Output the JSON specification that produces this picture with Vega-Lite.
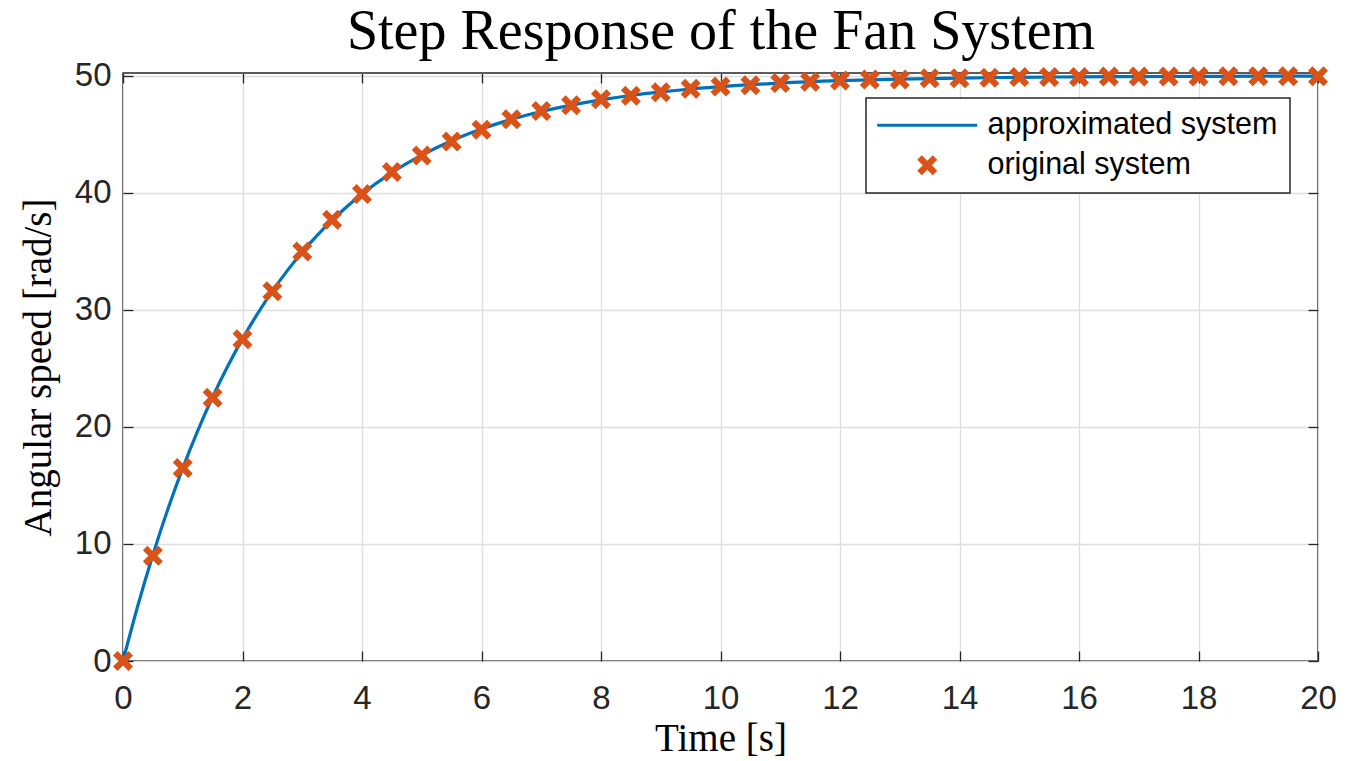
{
  "$schema": "https://vega.github.io/schema/vega-lite/v6.json",
  "width": 1195,
  "height": 588,
  "autosize": {"type": "none"},
  "padding": {"left": 123, "top": 73, "right": 42, "bottom": 100},
  "background": "white",
  "datasets": {
    "approx": [
      {"t": 0, "v": 0}, {"t": 0.25, "v": 4.76}, {"t": 0.5, "v": 9.06}, {"t": 0.75, "v": 12.96},
      {"t": 1, "v": 16.48}, {"t": 1.25, "v": 19.67}, {"t": 1.5, "v": 22.56}, {"t": 1.75, "v": 25.17},
      {"t": 2, "v": 27.53}, {"t": 2.25, "v": 29.67}, {"t": 2.5, "v": 31.61}, {"t": 2.75, "v": 33.36},
      {"t": 3, "v": 34.94}, {"t": 3.25, "v": 36.37}, {"t": 3.5, "v": 37.67}, {"t": 3.75, "v": 38.84},
      {"t": 4, "v": 39.91}, {"t": 4.5, "v": 41.74}, {"t": 5, "v": 43.23}, {"t": 5.5, "v": 44.46},
      {"t": 6, "v": 45.46}, {"t": 6.5, "v": 46.29}, {"t": 7, "v": 46.96}, {"t": 7.5, "v": 47.51},
      {"t": 8, "v": 47.96}, {"t": 8.5, "v": 48.33}, {"t": 9, "v": 48.63}, {"t": 9.5, "v": 48.88},
      {"t": 10, "v": 49.08}, {"t": 11, "v": 49.39}, {"t": 12, "v": 49.59}, {"t": 13, "v": 49.72},
      {"t": 14, "v": 49.82}, {"t": 15, "v": 49.88}, {"t": 16, "v": 49.92}, {"t": 17, "v": 49.94},
      {"t": 18, "v": 49.96}, {"t": 19, "v": 49.975}, {"t": 20, "v": 49.98}
    ],
    "orig": [
      {"t": 0, "v": 0, "series": "original system"},
      {"t": 0.5, "v": 9.0, "series": "original system"},
      {"t": 1, "v": 16.5, "series": "original system"},
      {"t": 1.5, "v": 22.5, "series": "original system"},
      {"t": 2, "v": 27.5, "series": "original system"},
      {"t": 2.5, "v": 31.6, "series": "original system"},
      {"t": 3, "v": 35.0, "series": "original system"},
      {"t": 3.5, "v": 37.7, "series": "original system"},
      {"t": 4, "v": 39.9, "series": "original system"},
      {"t": 4.5, "v": 41.8, "series": "original system"},
      {"t": 5, "v": 43.2, "series": "original system"},
      {"t": 5.5, "v": 44.4, "series": "original system"},
      {"t": 6, "v": 45.4, "series": "original system"},
      {"t": 6.5, "v": 46.3, "series": "original system"},
      {"t": 7, "v": 47.0, "series": "original system"},
      {"t": 7.5, "v": 47.5, "series": "original system"},
      {"t": 8, "v": 48.0, "series": "original system"},
      {"t": 8.5, "v": 48.3, "series": "original system"},
      {"t": 9, "v": 48.6, "series": "original system"},
      {"t": 9.5, "v": 48.9, "series": "original system"},
      {"t": 10, "v": 49.1, "series": "original system"},
      {"t": 10.5, "v": 49.2, "series": "original system"},
      {"t": 11, "v": 49.4, "series": "original system"},
      {"t": 11.5, "v": 49.5, "series": "original system"},
      {"t": 12, "v": 49.6, "series": "original system"},
      {"t": 12.5, "v": 49.7, "series": "original system"},
      {"t": 13, "v": 49.7, "series": "original system"},
      {"t": 13.5, "v": 49.8, "series": "original system"},
      {"t": 14, "v": 49.8, "series": "original system"},
      {"t": 14.5, "v": 49.85, "series": "original system"},
      {"t": 15, "v": 49.9, "series": "original system"},
      {"t": 15.5, "v": 49.9, "series": "original system"},
      {"t": 16, "v": 49.9, "series": "original system"},
      {"t": 16.5, "v": 49.95, "series": "original system"},
      {"t": 17, "v": 49.95, "series": "original system"},
      {"t": 17.5, "v": 49.95, "series": "original system"},
      {"t": 18, "v": 49.96, "series": "original system"},
      {"t": 18.5, "v": 49.97, "series": "original system"},
      {"t": 19, "v": 49.97, "series": "original system"},
      {"t": 19.5, "v": 49.98, "series": "original system"},
      {"t": 20, "v": 49.98, "series": "original system"}
    ]
  },
  "layer": [
    {
      "data": {"name": "approx"},
      "mark": {"type": "line", "color": "#0072BD", "strokeWidth": 3.2, "interpolate": "monotone", "clip": true},
      "encoding": {
        "x": {
          "field": "t", "type": "quantitative",
          "scale": {"domain": [0, 20], "nice": false, "zero": false},
          "axis": {
            "orient": "bottom", "title": "Time [s]", "values": [0, 2, 4, 6, 8, 10, 12, 14, 16, 18, 20],
            "grid": true, "labelPadding": 31,
            "titleX": 597.5, "titleY": 89, "titleBaseline": "alphabetic", "titleAlign": "center"
          }
        },
        "y": {
          "field": "v", "type": "quantitative",
          "scale": {"domain": [0, 50.25], "nice": false, "zero": false},
          "axis": {
            "orient": "left", "title": "Angular speed [rad/s]", "values": [0, 10, 20, 30, 40, 50],
            "grid": true, "labelPadding": 22,
            "titleX": -73, "titleY": 294, "titleAngle": -90, "titleBaseline": "alphabetic", "titleAlign": "center"
          }
        }
      }
    },
    {
      "data": {"name": "orig"},
      "mark": {"type": "point", "filled": true, "size": 400, "opacity": 1, "strokeWidth": 0},
      "encoding": {
        "x": {
          "field": "t", "type": "quantitative",
          "scale": {"domain": [0, 20], "nice": false, "zero": false},
          "axis": {
            "orient": "top", "labels": false, "grid": false, "values": [0, 2, 4, 6, 8, 10, 12, 14, 16, 18, 20],
            "title": "Step Response of the Fan System",
            "titleFont": "Liberation Serif", "titleFontSize": 56, "titleColor": "black",
            "titleX": 597.5, "titleY": -25, "titleBaseline": "alphabetic", "titleAlign": "center"
          }
        },
        "y": {
          "field": "v", "type": "quantitative",
          "scale": {"domain": [0, 50.25], "nice": false, "zero": false},
          "axis": {"orient": "right", "labels": false, "title": null, "grid": false, "values": [0, 10, 20, 30, 40, 50]}
        },
        "color": {
          "field": "series", "type": "nominal",
          "scale": {"domain": ["approximated system", "original system"], "range": ["#0072BD", "#D95319"]},
          "legend": {"title": null}
        },
        "shape": {
          "field": "series", "type": "nominal",
          "scale": {
            "domain": ["approximated system", "original system"],
            "range": [
              "M-5,-0.16L5,-0.16L5,0.16L-5,0.16Z",
              "M-0.55,-1L0,-0.45L0.55,-1L1,-0.55L0.45,0L1,0.55L0.55,1L0,0.45L-0.55,1L-1,0.55L-0.45,0L-1,-0.55Z"
            ]
          },
          "legend": {"title": null}
        }
      }
    }
  ],
  "resolve": {"axis": {"x": "independent", "y": "independent"}},
  "config": {
    "font": "Liberation Sans",
    "view": {"stroke": "#262626", "strokeWidth": 1.5},
    "axis": {
      "domain": false,
      "ticks": true,
      "tickSize": -10,
      "tickColor": "#262626",
      "tickWidth": 1.3,
      "gridColor": "#dedede",
      "gridWidth": 1.3,
      "gridOpacity": 1,
      "labelFont": "Liberation Sans",
      "labelFontSize": 33,
      "labelColor": "#262626",
      "labelPadding": 14,
      "titleFont": "Liberation Serif",
      "titleFontSize": 39,
      "titleFontWeight": "normal",
      "titleColor": "black",
      "labelFlush": false,
      "labelOverlap": false
    },
    "legend": {
      "orient": "none",
      "legendX": 743,
      "legendY": 25,
      "padding": 12,
      "strokeColor": "#262626",
      "strokeWidth": 1.5,
      "fillColor": "white",
      "labelFont": "Liberation Sans",
      "labelFontSize": 30.5,
      "labelColor": "black",
      "labelLimit": 0,
      "symbolSize": 400,
      "symbolStrokeWidth": 0,
      "symbolOffset": 34,
      "labelOffset": 45,
      "rowPadding": 9,
      "symbolOpacity": 1
    }
  }
}
